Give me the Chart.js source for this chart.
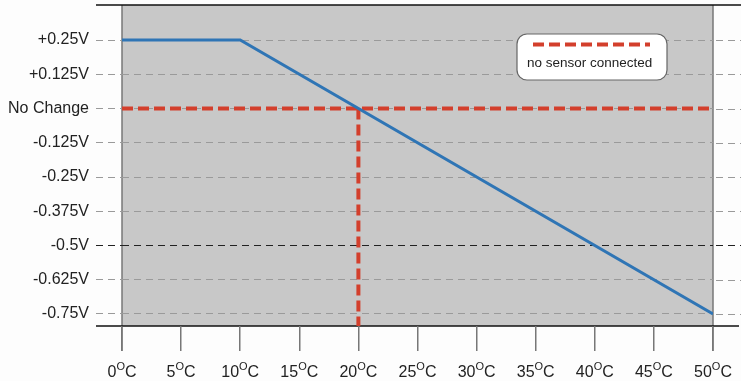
<!DOCTYPE html>
<html lang="en">
<head>
    <meta charset="UTF-8">
    <title>Sensor output vs temperature</title>
    <script src="https://cdn.jsdelivr.net/npm/chart.js"></script>
    <style>
        html, body { margin: 0; padding: 0; background: #fdfdfd; }
        canvas { display: block; }
    </style>
</head>
<body>

<canvas id="tempChart" width="741" height="381"></canvas>

<script>
    // axis ticks
    const tempTicks = [0, 5, 10, 15, 20, 25, 30, 35, 40, 45, 50];
    const voltTicks = [0.25, 0.125, 0, -0.125, -0.25, -0.375, -0.5, -0.625, -0.75];
    const voltLabels = ['+0.25V', '+0.125V', 'No Change', '-0.125V', '-0.25V', '-0.375V', '-0.5V', '-0.625V', '-0.75V'];
    const voltMin = -0.794;
    const voltMax = 0.378;

    // sensor output
    const sensorTemp = [0, 10, 50];
    const sensorVolt = [0.25, 0.25, -0.75];

    // no sensor connected
    const noSensorTemp = [0, 50];
    const noSensorVolt = [0, 0];
    const crossTemp = [20, 20];
    const crossVolt = [0, voltMin];

    const FONT = "'Liberation Sans', Arial, sans-serif";
    const RED = '#d33f2c';
    const BLUE = '#2f75b5';
    const GRID = '#9a9a9a';

    const pts = (xs, ys) => xs.map((x, i) => ({x: x, y: ys[i]}));
    const gridColor = c => (c.tick && c.tick.value === -0.5) ? '#222' : GRID;

    const framePlugin = {
        id: 'frame',
        beforeDraw(chart) {
            const ctx = chart.ctx;
            const a = chart.chartArea;
            const xs = chart.scales.x;
            const ys = chart.scales.y;
            ctx.save();
            ctx.fillStyle = '#fdfdfd';
            ctx.fillRect(0, 0, chart.width, chart.height);
            ctx.fillStyle = '#c8c8c8';
            ctx.fillRect(a.left, a.top, a.right - a.left, a.bottom - a.top);

            // gridlines continue past the right edge
            ctx.lineWidth = 1;
            ctx.setLineDash([7, 5]);
            voltTicks.forEach(v => {
                const y = Math.round(ys.getPixelForValue(v)) + 0.5;
                ctx.strokeStyle = v === -0.5 ? '#222' : GRID;
                ctx.beginPath();
                ctx.moveTo(a.right + 3, y);
                ctx.lineTo(chart.width, y);
                ctx.stroke();
            });
            ctx.setLineDash([]);

            // side borders down to the tick marks
            ctx.strokeStyle = '#777';
            ctx.lineWidth = 1.5;
            [xs.getPixelForValue(0), xs.getPixelForValue(50)].forEach(x => {
                ctx.beginPath();
                ctx.moveTo(x, a.top);
                ctx.lineTo(x, a.bottom + 25);
                ctx.stroke();
            });

            // top and bottom black lines
            ctx.strokeStyle = '#111';
            ctx.lineWidth = 1.5;
            ctx.beginPath();
            ctx.moveTo(96, a.top);
            ctx.lineTo(chart.width, a.top);
            ctx.moveTo(96, a.bottom);
            ctx.lineTo(739, a.bottom);
            ctx.stroke();
            ctx.restore();
        },
        afterDraw(chart) {
            const ctx = chart.ctx;
            const xs = chart.scales.x;
            ctx.save();

            // x labels with raised "O"
            ctx.fillStyle = '#222';
            ctx.textBaseline = 'alphabetic';
            ctx.textAlign = 'left';
            tempTicks.forEach(t => {
                const big = '16px ' + FONT;
                const small = '11px ' + FONT;
                ctx.font = big;
                const wn = ctx.measureText(String(t)).width;
                const wc = ctx.measureText('C').width;
                ctx.font = small;
                const wo = ctx.measureText('O').width;
                let x = xs.getPixelForValue(t) - (wn + wo + wc) / 2;
                const base = 377;
                ctx.font = big;
                ctx.fillText(String(t), x, base);
                x += wn;
                ctx.font = small;
                ctx.fillText('O', x, base - 7);
                x += wo;
                ctx.font = big;
                ctx.fillText('C', x, base);
            });

            // legend box
            const bx = 517, by = 34, bw = 150, bh = 46;
            ctx.beginPath();
            ctx.roundRect(bx, by, bw, bh, 10);
            ctx.fillStyle = '#ffffff';
            ctx.fill();
            ctx.strokeStyle = '#666';
            ctx.lineWidth = 1.2;
            ctx.stroke();
            ctx.strokeStyle = RED;
            ctx.lineWidth = 4;
            ctx.setLineDash([11, 5]);
            ctx.beginPath();
            ctx.moveTo(533, 44.5);
            ctx.lineTo(650, 44.5);
            ctx.stroke();
            ctx.setLineDash([]);
            ctx.fillStyle = '#222';
            ctx.font = '13.5px ' + FONT;
            ctx.textAlign = 'left';
            ctx.fillText(chart.data.datasets[0].label, 527, 67);
            ctx.restore();
        }
    };

    new Chart(document.getElementById('tempChart'), {
        type: 'line',
        data: {
            datasets: [{
                label: 'no sensor connected',
                data: pts(noSensorTemp, noSensorVolt),
                borderColor: RED,
                borderWidth: 4,
                borderDash: [11, 5],
                pointRadius: 0,
                order: 2
            }, {
                label: 'no sensor (20°C)',
                data: pts(crossTemp, crossVolt),
                borderColor: RED,
                borderWidth: 4,
                borderDash: [11, 5],
                pointRadius: 0,
                order: 3
            }, {
                label: 'sensor output',
                data: pts(sensorTemp, sensorVolt),
                borderColor: BLUE,
                borderWidth: 3,
                pointRadius: 0,
                tension: 0,
                order: 1
            }]
        },
        options: {
            responsive: false,
            animation: false,
            layout: {
                autoPadding: false,
                padding: {top: 5, right: 28, bottom: 0, left: 0}
            },
            plugins: {
                legend: { display: false },
                tooltip: { enabled: false }
            },
            scales: {
                x: {
                    type: 'linear',
                    min: 0,
                    max: 50,
                    afterBuildTicks: s => { s.ticks = tempTicks.map(v => ({value: v})); },
                    afterFit: s => { s.height = 55; s.paddingLeft = 0; s.paddingRight = 0; },
                    ticks: { display: false },
                    border: { display: false },
                    grid: {
                        drawOnChartArea: false,
                        drawTicks: true,
                        tickLength: 25,
                        color: '#777',
                        lineWidth: 1.5
                    }
                },
                y: {
                    type: 'linear',
                    min: voltMin,
                    max: voltMax,
                    afterBuildTicks: s => { s.ticks = voltTicks.map(v => ({value: v})); },
                    afterFit: s => { s.width = 122; s.paddingTop = 0; s.paddingBottom = 0; },
                    ticks: {
                        padding: 7,
                        color: '#222',
                        font: { family: FONT, size: 16 },
                        callback: (v, i) => voltLabels[i]
                    },
                    border: { display: false, dash: [7, 5] },
                    grid: {
                        drawTicks: true,
                        tickLength: 26,
                        lineWidth: 1,
                        color: gridColor,
                        tickColor: gridColor,
                        tickBorderDash: [7, 5]
                    }
                }
            }
        },
        plugins: [framePlugin]
    });
</script>

</body>
</html>
